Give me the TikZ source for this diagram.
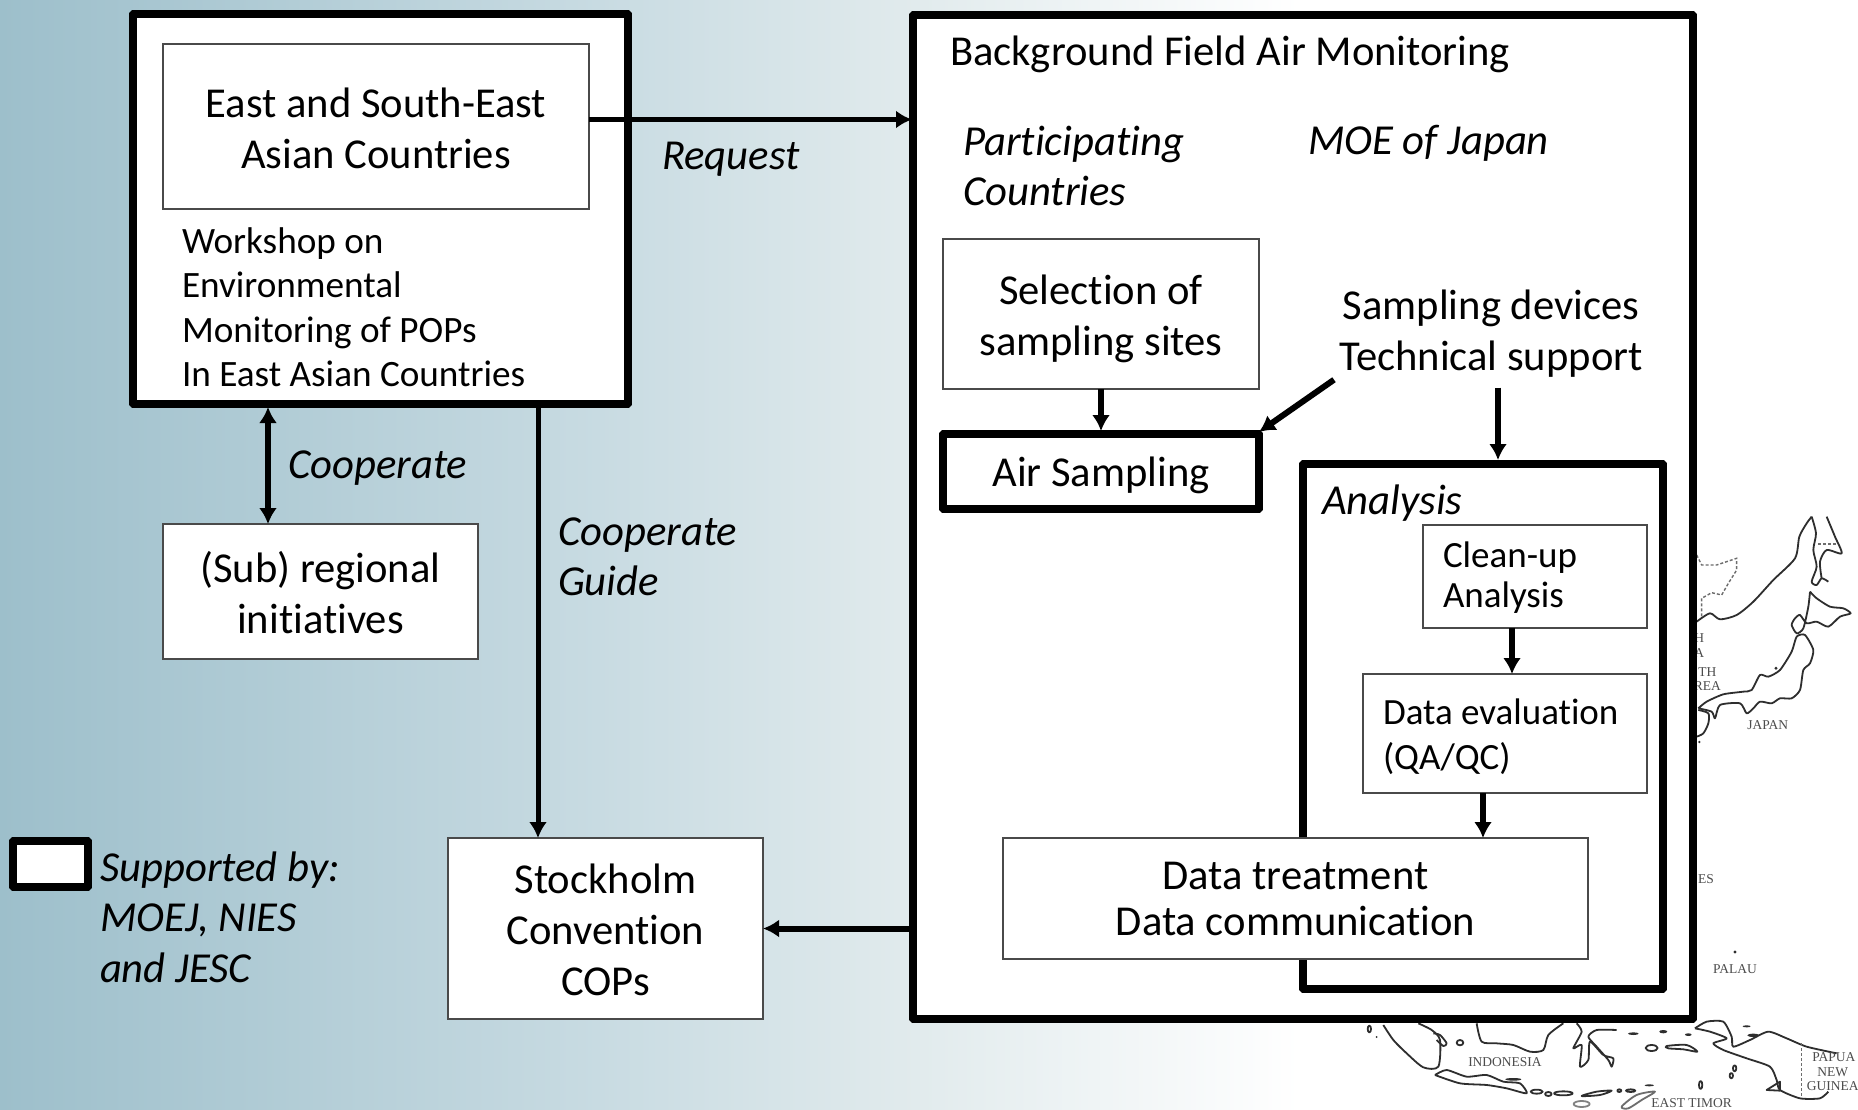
\documentclass[tikz,border=0pt]{standalone}
\usepackage{fontspec}
\setmainfont[Ligatures={NoCommon}]{Carlito}
\newfontfamily\mapfont{Liberation Serif}
\definecolor{bgA}{HTML}{9DBFCB}
\definecolor{bgB}{HTML}{C8DBE2}
\definecolor{bgC}{HTML}{E0EAEC}
\definecolor{inkmap}{HTML}{2E2E2E}
\definecolor{thinline}{HTML}{4A4A4A}
\pgfdeclarehorizontalshading{pagebg}{100bp}{color(0bp)=(bgA); color(25bp)=(bgA); color(48bp)=(bgB); color(59.6bp)=(bgC); color(75bp)=(white); color(100bp)=(white)}
\usetikzlibrary{arrows.meta}
\tikzset{
  thinbox/.style={draw=thinline,line width=1.3pt,fill=white,inner sep=0pt,outer sep=0pt,anchor=north west,align=center},
  heavybox/.style={draw=black,line width=7.8pt,fill=white,inner sep=0pt,outer sep=0pt,anchor=north west,rounded corners=0.6pt},
  lab/.style={inner sep=0pt,outer sep=0pt,anchor=west,align=left},
  boxlab/.style={inner sep=0pt,outer sep=0pt,align=center,font=\fontsize{42.6}{51}\selectfont},
  big/.style={font=\fontsize{42.6}{51}\selectfont},
  mid/.style={font=\fontsize{37.2}{44.5}\selectfont},
  ital/.style={font=\fontsize{42.7}{50.5}\selectfont\itshape},
  arr/.style={line width=6pt,-{Latex[length=16pt,width=18pt]}},
  arrthin/.style={line width=5pt,-{Latex[length=16pt,width=18pt]}},
  arrboth/.style={line width=6pt,{Latex[length=16pt,width=18pt]}-{Latex[length=16pt,width=18pt]}},
  coast/.style={draw=inkmap,line width=1.8pt,line join=round,fill=none},
  border/.style={draw=inkmap!70,line width=1.4pt,densely dashed},
  maplabel/.style={inner sep=0pt,text=black!70,align=center,font=\fontsize{13.5}{14.5}\selectfont\mapfont},
}
\begin{document}
\begin{tikzpicture}[x=1pt,y=-1pt]
\useasboundingbox (0,0) rectangle (1858,1109);
\fill[white] (0,0) rectangle (1858,1109);
\shade[shading=pagebg] (0,0) rectangle (1300,1109);

% --- map, north part
\begin{scope}[shift={(1640pt,-500pt)},x=0.3333pt,y=-0.3333pt]
  \draw[coast] plot[smooth,tension=.45] coordinates {(170,365)(210,340)(240,358)(290,345)(340,305)(400,240)(465,175)(478,110)(500,70)(515,50)};
  \draw[coast] plot[smooth,tension=.45] coordinates {(515,50)(528,100)(520,150)(530,200)(515,245)(530,255)(545,235)(565,245)};
  \draw[coast] plot[smooth,tension=.45] coordinates {(545,235)(540,185)(560,150)(605,160)(585,110)(560,50)};
  \draw[coast] plot[smooth,tension=.4] coordinates {(510,275)(530,295)(570,320)(610,325)(632,340)(600,350)(565,380)(530,365)(500,370)(480,345)(465,355)(455,375)(470,400)(490,385)(505,320)(510,275)};
  \draw[coast] plot[smooth,tension=.4] coordinates {(175,625)(200,605)(250,583)(310,575)(335,570)(360,525)(385,530)(420,510)(455,455)(470,410)(495,405)(520,450)(510,490)(490,510)(480,570)(455,595)(420,595)(395,610)(360,605)(340,625)(320,640)(300,610)(240,615)(225,655)(215,635)(175,625)};
  \draw[coast] plot[smooth,tension=.45] coordinates {(175,630)(205,640)(205,670)(190,700)(170,710)};
  \draw[border] (170,165) -- (185,195) -- (230,195) -- (290,175) -- (290,210) -- (265,250) -- (245,285) -- (215,278) -- (185,295) -- (185,350);
  \draw[border] (535,132) -- (590,132);
  \fill[inkmap] (408,505) circle (5);
  \fill[inkmap] (178,726) circle (4);
  \node[maplabel] (mapA) at (178,437) {H\\A};
  \node[maplabel] (mapB) at (202,538) {TH\\REA};
  \node[maplabel] (mapJ) at (383,675) {JAPAN};
\end{scope}
\node[maplabel] (mapES) at (1706,879) {ES};
\fill[inkmap] (1735,952) circle (1.7);

% --- map, south part
\begin{scope}[shift={(1340pt,-960pt)},x=0.3333pt,y=-0.3333pt]
  \draw[coast] plot[smooth,tension=.45] coordinates {(130,195)(160,240)(200,280)(250,322)(295,320)(300,240)(275,210)(235,190)};
  \draw[coast] plot[smooth,tension=.45] coordinates {(280,220)(300,225)(320,250)(310,258)(290,240)};
  \draw[coast] plot[smooth,tension=.45] coordinates {(410,190)(425,245)(470,250)(520,255)(570,275)(610,270)(625,225)(670,190)};
  \draw[coast] plot[smooth,tension=.4] coordinates {(710,190)(725,215)(700,265)(725,255)(720,320)(745,300)(750,245)(790,285)(820,295)(815,320)(805,300)(770,260)(745,230)(770,210)(830,210)};
  \draw[coast] plot[smooth,tension=.4] coordinates {(285,345)(320,330)(380,350)(440,345)(490,365)(540,370)(560,400)(500,385)(440,375)(360,370)(285,345)};
  \draw[coast] plot[smooth,tension=.4] coordinates {(1065,205)(1100,185)(1150,185)(1175,230)(1180,260)(1230,240)(1285,215)(1340,235)(1400,260)(1490,280)};
  \draw[coast] plot[smooth,tension=.4] coordinates {(1065,205)(1110,215)(1160,235)(1120,250)(1150,270)(1220,295)(1290,320)(1310,360)(1320,390)(1380,415)(1440,415)(1465,395)};
  \draw[coast] (1280,390) -- (1320,365) -- (1320,392) -- cycle;
  \draw[border] (1385,250) -- (1385,410);
  \draw[coast] (935,264) ellipse (18 and 9);
  \draw[coast] (360,248) ellipse (10 and 8);
  \draw[coast] plot[smooth cycle,tension=.5] coordinates {(980,258)(1040,255)(1072,275)(1030,268)(985,265)};
  \draw[coast] (590,395) ellipse (18 and 6);
  \draw[coast] (625,402) ellipse (10 and 6);
  \draw[coast] (670,400) ellipse (28 and 6);
  \draw[coast] plot[smooth cycle,tension=.5] coordinates {(725,408)(770,395)(815,392)(780,405)};
  \draw[coast] (838,392) ellipse (6 and 4);
  \draw[coast] (872,392) ellipse (14 and 4);
  \fill[inkmap] (928,376) ellipse (14 and 3);
  \draw[coast,draw=inkmap!70] plot[smooth cycle,tension=.5] coordinates {(845,440)(890,405)(945,395)(905,420)(865,445)};
  \draw[coast,draw=inkmap!60] (725,432) ellipse (24 and 9);
  \draw[coast] (1082,375) ellipse (5 and 12);
  \draw[coast] (1184,325) ellipse (5 and 9);
  \draw[coast] (1174,347) ellipse (5 and 8);
  \fill[inkmap] (880,221) ellipse (16 and 4);
  \fill[inkmap] (970,215) ellipse (12 and 5);
  \fill[inkmap] (1045,224) ellipse (10 and 4);
  \fill[inkmap] (1240,226) ellipse (18 and 5);
  \fill[inkmap] (1220,199) ellipse (12 and 3);
  \draw[coast] (88,207) ellipse (5 and 10);
  \fill[inkmap] (110,231) circle (3);
  \fill[inkmap] (520,358) ellipse (24 and 4);
  \node[maplabel] (mapI) at (495,307) {INDONESIA};
  \node[maplabel] (mapT) at (1055,428) {EAST TIMOR};
  \node[maplabel,anchor=west] (mapP) at (1400,335) {\,PAPUA\\NEW\\GUINEA};
  \node[maplabel] (mapL) at (1185,27) {PALAU};
\end{scope}

% --- heavy frames
\node[heavybox,minimum width=495pt,minimum height=390pt] (lead) at (133,14) {};
\node[heavybox,minimum width=780pt,minimum height=1004pt] (field) at (913,15) {};
\node[heavybox,minimum width=360pt,minimum height=525pt] (analysis) at (1303,464) {};
\node[heavybox,minimum width=316pt,minimum height=75pt] (air) at (943,434) {};
\node[heavybox,minimum width=75pt,minimum height=46pt] (legend) at (13,841) {};

% --- thin boxes
\node[thinbox,minimum width=426pt,minimum height=165pt] (east) at (163,44) {};
\node[thinbox,minimum width=315pt,minimum height=135pt] (sub) at (163,524) {};
\node[thinbox,minimum width=315pt,minimum height=181pt] (cops) at (448,838) {};
\node[thinbox,minimum width=316pt,minimum height=150pt] (sel) at (943,239) {};
\node[thinbox,minimum width=224pt,minimum height=103pt] (clean) at (1423,525) {};
\node[thinbox,minimum width=284pt,minimum height=119pt] (eval) at (1363,674) {};
\node[thinbox,font=\fontsize{42.6}{46}\selectfont,minimum width=585pt,minimum height=121pt] (treat) at (1003,838) {Data treatment\\Data communication};

% --- labels
\node[boxlab] (airtxt) at ([yshift=-3.5pt]air.center) {Air Sampling};
\node[boxlab] (easttxt) at ([yshift=-1.5pt]east.center) {East and South-East\\Asian Countries};
\node[boxlab] (subtxt) at ([yshift=-1.5pt]sub.center) {(Sub) regional\\initiatives};
\node[boxlab] (copstxt) at ([yshift=-1.5pt]cops.center) {Stockholm\\Convention\\COPs};
\node[boxlab] (seltxt) at ([yshift=-5pt]sel.center) {Selection of\\sampling sites};
\node[lab,font=\fontsize{37}{40}\selectfont] (cleantxt) at (1443,578) {Clean-up\\Analysis};
\node[lab,font=\fontsize{37}{45}\selectfont] (evaltxt) at (1383,737) {Data evaluation\\(QA/QC)};
\node[lab,mid] (work) at (182,307) {Workshop on\\Environmental\\Monitoring of POPs\\In East Asian Countries};
\node[lab,big] (bg) at (950,54) {Background Field Air Monitoring};
\node[lab,ital] (part) at (963,166) {Participating\\Countries};
\node[lab,ital] (moe) at (1308,143) {MOE of Japan};
\node[lab,ital] (ana) at (1322,503) {Analysis};
\node[inner sep=0pt,outer sep=0pt,align=center,big] (tech) at (1491,334) {Sampling devices\\Technical support};
\node[lab,ital] (req) at (662,159) {Request};
\node[lab,ital] (coop) at (288,468) {Cooperate};
\node[lab,ital] (guide) at (558,557) {Cooperate\\Guide};
\node[lab,ital] (supp) at (100,917) {Supported by:\\MOEJ, NIES\\and JESC};

% --- connectors
\draw[arrthin] ([yshift=7pt]east.east) -- ([yshift=7pt,xshift=-1pt]east.east -| field.west);
\draw[arrboth] ([xshift=-112.5pt,yshift=-3pt]lead.south) -- ([xshift=-52.5pt]sub.north);
\draw[arrthin] ([xshift=157.5pt]lead.south) -- ([xshift=-67.5pt]cops.north);
\draw[arr] (field.west |- cops.east) -- (cops.east);
\draw[arr] (sel.south) -- ([yshift=3pt]air.north);
\draw[arr] ([xshift=-157pt,yshift=-2pt]tech.south) -- ([xshift=0pt,yshift=2pt]air.north east);
\draw[arr] ([xshift=7pt,yshift=-10pt]tech.south) -- ([xshift=15pt,yshift=4pt]analysis.north);
\draw[arr] ([xshift=-23pt]clean.south) -- ([xshift=7pt]eval.north);
\draw[arr] ([xshift=-22pt]eval.south) -- ([xshift=187.5pt]treat.north);
\end{tikzpicture}
\end{document}
